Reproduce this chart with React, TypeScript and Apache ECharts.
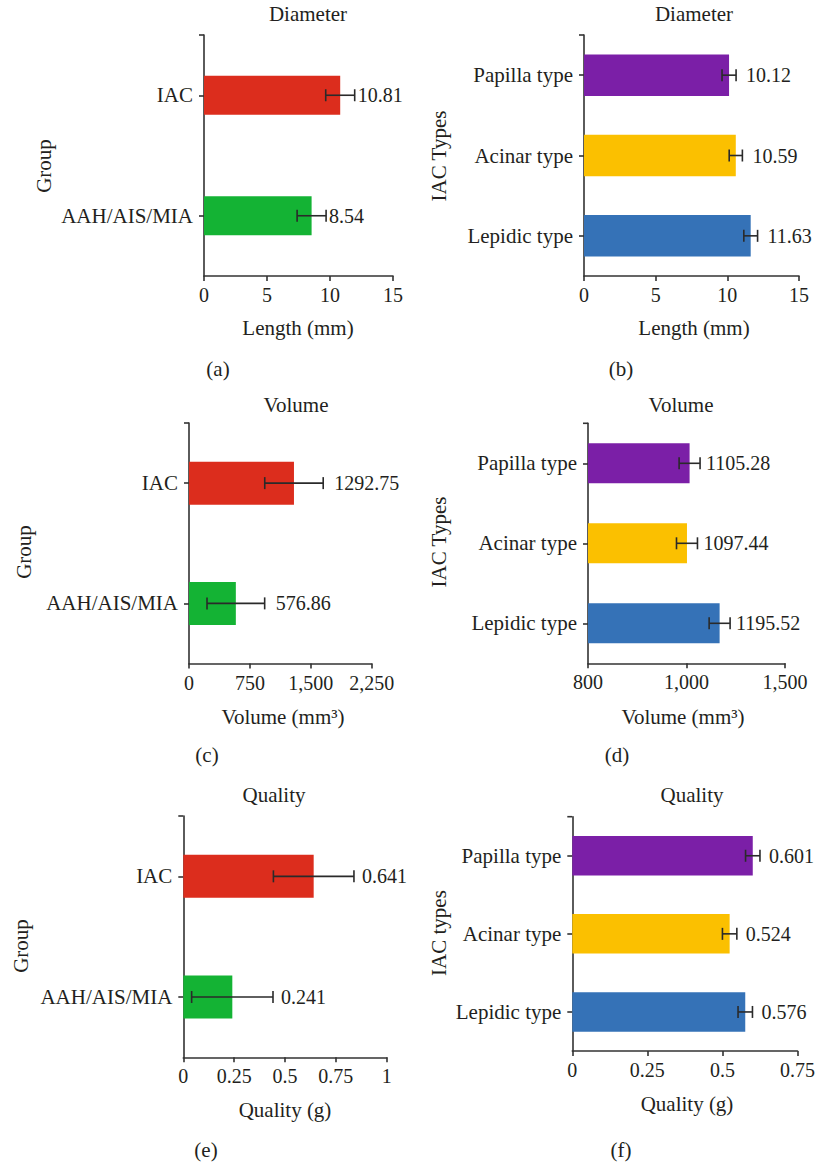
import React, { useEffect, useRef } from "react";
import * as echarts from "echarts";

// ---------- data ----------
const GROUP_CATS = ["IAC", "AAH/AIS/MIA"];
const TYPE_CATS = ["Papilla type", "Acinar type", "Lepidic type"];

const DIAM_GROUP = [10.81, 8.54];
const DIAM_GROUP_ERR = [1.15, 1.15];
const DIAM_TYPE = [10.12, 10.59, 11.63];
const DIAM_TYPE_ERR = [0.49, 0.46, 0.48];

const VOL_GROUP = [1292.75, 576.86];
const VOL_GROUP_ERR = [360, 355];
const VOL_TYPE = [1105.28, 1097.44, 1195.52];
const VOL_TYPE_ERR = [31.5, 31.5, 31.5];

const QUAL_GROUP = [0.641, 0.241];
const QUAL_GROUP_ERR = [0.198, 0.2];
const QUAL_TYPE = [0.601, 0.524, 0.576];
const QUAL_TYPE_ERR = [0.024, 0.024, 0.024];

const TICKS_LEN = ["0", "5", "10", "15"];
const TICKS_VOL_GROUP = ["0", "750", "1,500", "2,250"];
const TICKS_VOL_TYPE = ["800", "1,000", "1,500"];
const TICKS_QUAL_GROUP = ["0", "0.25", "0.5", "0.75", "1"];
const TICKS_QUAL_TYPE = ["0", "0.25", "0.5", "0.75"];

// ---------- styles ----------
const FONT = "Liberation Serif";
const TEXT = "#231f20";
const AXIS = "#333333";
const ERR = "#2a2a2a";
const GROUP_COLORS = ["#DC2D1D", "#14B334"];
const TYPE_COLORS = ["#7B1FA7", "#FBC000", "#3572B7"];

type Panel = {
  grid: { left: number; top: number; width: number; height: number };
  cats: string[];
  colors: string[];
  values: number[];
  errs: number[];
  min: number;
  max: number;
  interval: number;
  ticks: string[];
  barWidth: number;
  gap: number;
  title: string;
  titlePos: [number, number];
  yName: string;
  yNamePos: [number, number];
  xName: string;
  xNamePos: [number, number];
  letter: string;
  letterPos: [number, number];
};

const PANELS: Panel[] = [
  {
    grid: { left: 204, top: 35, width: 189, height: 241 },
    cats: GROUP_CATS, colors: GROUP_COLORS, values: DIAM_GROUP, errs: DIAM_GROUP_ERR,
    min: 0, max: 15, interval: 5, ticks: TICKS_LEN, barWidth: 39, gap: 3,
    title: "Diameter", titlePos: [308, 14], yName: "Group", yNamePos: [44, 166],
    xName: "Length (mm)", xNamePos: [298, 328], letter: "(a)", letterPos: [218, 369],
  },
  {
    grid: { left: 584, top: 35, width: 215, height: 241 },
    cats: TYPE_CATS, colors: TYPE_COLORS, values: DIAM_TYPE, errs: DIAM_TYPE_ERR,
    min: 0, max: 15, interval: 5, ticks: TICKS_LEN, barWidth: 41.5, gap: 10,
    title: "Diameter", titlePos: [694, 14], yName: "IAC Types", yNamePos: [439, 156],
    xName: "Length (mm)", xNamePos: [694, 328], letter: "(b)", letterPos: [621, 369],
  },
  {
    grid: { left: 189, top: 423, width: 182.7, height: 240.5 },
    cats: GROUP_CATS, colors: GROUP_COLORS, values: VOL_GROUP, errs: VOL_GROUP_ERR,
    min: 0, max: 2250, interval: 750, ticks: TICKS_VOL_GROUP, barWidth: 43, gap: 11,
    title: "Volume", titlePos: [296, 405], yName: "Group", yNamePos: [24, 552],
    xName: "Volume (mm³)", xNamePos: [283, 717], letter: "(c)", letterPos: [207, 755],
  },
  {
    grid: { left: 588, top: 423.3, width: 197, height: 240 },
    cats: TYPE_CATS, colors: TYPE_COLORS, values: VOL_TYPE, errs: VOL_TYPE_ERR,
    min: 800, max: 1392, interval: 296, ticks: TICKS_VOL_TYPE, barWidth: 40, gap: 6,
    title: "Volume", titlePos: [681, 405], yName: "IAC Types", yNamePos: [439, 542],
    xName: "Volume (mm³)", xNamePos: [683, 717], letter: "(d)", letterPos: [617, 755],
  },
  {
    grid: { left: 183.3, top: 816, width: 203.4, height: 241.3 },
    cats: GROUP_CATS, colors: GROUP_COLORS, values: QUAL_GROUP, errs: QUAL_GROUP_ERR,
    min: 0, max: 1, interval: 0.25, ticks: TICKS_QUAL_GROUP, barWidth: 43, gap: 8,
    title: "Quality", titlePos: [274, 795], yName: "Group", yNamePos: [21, 946],
    xName: "Quality (g)", xNamePos: [285, 1110], letter: "(e)", letterPos: [206, 1150],
  },
  {
    grid: { left: 572.3, top: 816.7, width: 226.7, height: 234.3 },
    cats: TYPE_CATS, colors: TYPE_COLORS, values: QUAL_TYPE, errs: QUAL_TYPE_ERR,
    min: 0, max: 0.75, interval: 0.25, ticks: TICKS_QUAL_TYPE, barWidth: 39.5, gap: 9,
    title: "Quality", titlePos: [692, 795], yName: "IAC types", yNamePos: [439, 933],
    xName: "Quality (g)", xNamePos: [687, 1104], letter: "(f)", letterPos: [621, 1150],
  },
];

function buildOption() {
  const grid: any[] = [];
  const xAxis: any[] = [];
  const yAxis: any[] = [];
  const series: any[] = [];
  const graphic: any[] = [];

  PANELS.forEach((p, i) => {
    grid.push({ ...p.grid, containLabel: false });
    xAxis.push({
      type: "value",
      gridIndex: i,
      min: p.min,
      max: p.max,
      interval: p.interval,
      splitLine: { show: false },
      axisLine: { show: true, onZero: false, lineStyle: { color: AXIS, width: 1.6 } },
      axisTick: { show: true, length: 5, lineStyle: { color: AXIS, width: 1.6 } },
      axisLabel: {
        margin: 9,
        color: TEXT,
        fontFamily: FONT,
        fontSize: 20,
        formatter: (_v: number, idx: number) => p.ticks[idx] ?? "",
      },
    });
    yAxis.push({
      type: "category",
      gridIndex: i,
      data: p.cats,
      inverse: true,
      axisLine: { show: true, onZero: false, lineStyle: { color: AXIS, width: 1.6 } },
      axisTick: { show: true, alignWithLabel: true, length: 5, lineStyle: { color: AXIS, width: 1.6 } },
      axisLabel: { margin: 11, color: TEXT, fontFamily: FONT, fontSize: 21 },
      splitLine: { show: false },
    });
    series.push({
      type: "bar",
      xAxisIndex: i,
      yAxisIndex: i,
      barWidth: p.barWidth,
      data: p.values.map((v, k) => ({ value: v, itemStyle: { color: p.colors[k] } })),
      silent: true,
    });
    const gap = p.gap;
    series.push({
      type: "custom",
      xAxisIndex: i,
      yAxisIndex: i,
      z: 5,
      encode: { x: [1, 2], y: 0 },
      data: p.values.map((v, k) => [k, v - p.errs[k], v + p.errs[k], v]),
      renderItem: (_params: any, api: any) => {
        const idx = api.value(0);
        const lo = api.coord([api.value(1), idx]);
        const hi = api.coord([api.value(2), idx]);
        const mean = api.value(3);
        const h = 6;
        const ls = { stroke: ERR, lineWidth: 1.6 };
        return {
          type: "group",
          children: [
            { type: "line", shape: { x1: lo[0], y1: lo[1], x2: hi[0], y2: hi[1] }, style: ls },
            { type: "line", shape: { x1: lo[0], y1: lo[1] - h, x2: lo[0], y2: lo[1] + h }, style: ls },
            { type: "line", shape: { x1: hi[0], y1: hi[1] - h, x2: hi[0], y2: hi[1] + h }, style: ls },
            {
              type: "text",
              x: hi[0] + gap,
              y: hi[1],
              style: {
                text: String(mean),
                fill: TEXT,
                fontSize: 20,
                fontFamily: FONT,
                align: "left",
                verticalAlign: "middle",
              },
            },
          ],
        };
      },
    });

    const textStyle = (text: string, size: number) => ({
      text,
      fill: TEXT,
      fontSize: size,
      fontFamily: FONT,
      align: "center",
      verticalAlign: "middle",
    });
    graphic.push({ type: "text", x: p.titlePos[0], y: p.titlePos[1], style: textStyle(p.title, 21) });
    graphic.push({ type: "text", x: p.xNamePos[0], y: p.xNamePos[1], style: textStyle(p.xName, 21) });
    graphic.push({
      type: "text",
      x: p.yNamePos[0],
      y: p.yNamePos[1],
      rotation: Math.PI / 2,
      style: textStyle(p.yName, 21),
    });
    graphic.push({ type: "text", x: p.letterPos[0], y: p.letterPos[1], style: textStyle(p.letter, 21) });
    // end tick at the top of the category axis
    graphic.push({
      type: "line",
      shape: { x1: p.grid.left - 5, y1: p.grid.top, x2: p.grid.left, y2: p.grid.top },
      style: { stroke: AXIS, lineWidth: 1.6 },
    });
  });

  return {
    animation: false,
    backgroundColor: "#ffffff",
    grid,
    xAxis,
    yAxis,
    series,
    graphic,
  };
}

export default function App() {
  const ref = useRef<HTMLDivElement>(null);
  useEffect(() => {
    if (!ref.current) return;
    const chart = echarts.init(ref.current, undefined, { renderer: "svg" });
    chart.setOption(buildOption() as any);
    return () => chart.dispose();
  }, []);
  return (
    <div
      ref={ref}
      style={{ position: "absolute", left: 0, top: 0, width: 818, height: 1164, background: "#fff" }}
    />
  );
}
